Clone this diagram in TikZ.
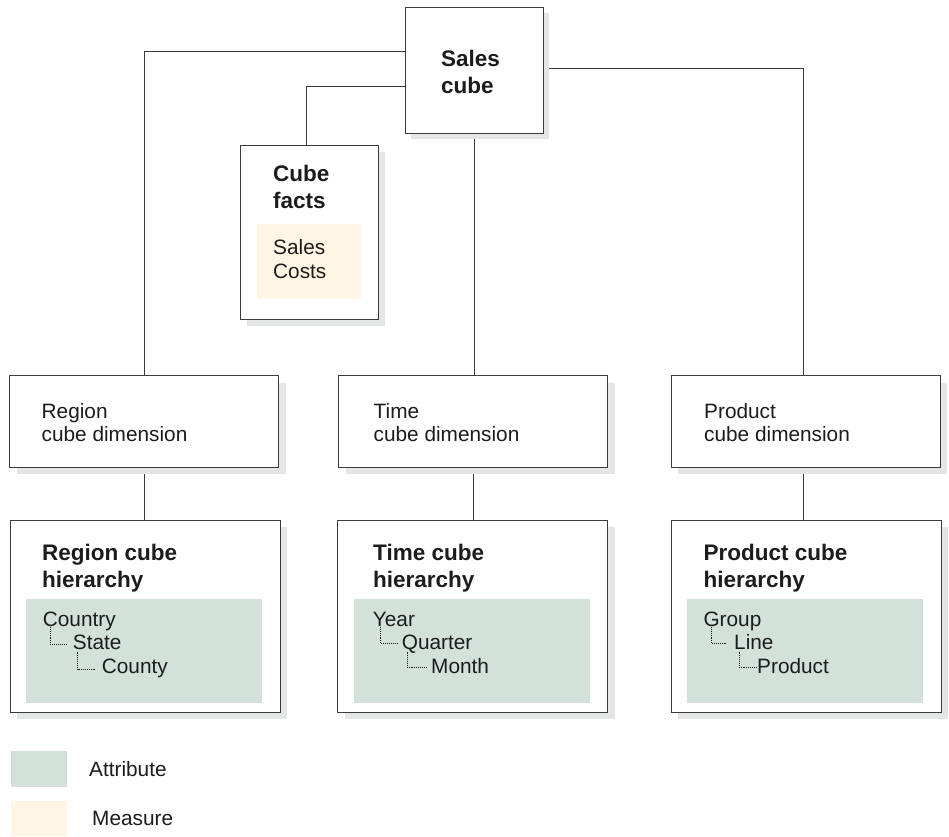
\documentclass[tikz,border=0pt]{standalone}
\usepackage{fontspec}
\setmainfont{Liberation Sans}
\usetikzlibrary{calc,shadows}

\definecolor{attrfill}{RGB}{211,225,219}
\definecolor{measfill}{RGB}{255,245,228}
\definecolor{shadowgrey}{RGB}{228,230,230}
\definecolor{edge}{RGB}{58,58,58}
\definecolor{ink}{RGB}{28,28,28}

\pgfdeclarelayer{paper}
\pgfdeclarelayer{wires}
\pgfsetlayers{paper,wires,main}

\begin{document}
\begin{tikzpicture}[x=1pt,y=-1pt,
  box/.style={draw=edge,line width=1pt,fill=white,rectangle,inner sep=0pt,
    drop shadow={shadow xshift=#1,shadow yshift=-#1,fill=shadowgrey,opacity=1}},
  box/.default=7pt,
  swatch/.style={rectangle,inner sep=0pt,draw=none},
  conn/.style={draw=edge,line width=1pt},
  treeline/.style={draw=ink,line width=0.8pt,dash pattern=on 0.8pt off 1.1pt},
  lbl/.style={anchor=base west,inner sep=0pt,text=ink,font=\fontsize{20.8}{23.5}\selectfont},
  ttl/.style={anchor=base west,inner sep=0pt,text=ink,font=\fontsize{22.5}{27}\selectfont\bfseries},
]
\begin{pgfonlayer}{paper}
  \path[use as bounding box,fill=white] (0,0) rectangle (949,833);
\end{pgfonlayer}

% ---- top: cube and its facts
\node[box=5.5pt,minimum width=138pt,minimum height=126pt] (sales) at (474.75,70.85) {};
\node[ttl] (salesA) at (441,66) {Sales};
\node[ttl] (salesB) at (441,93) {cube};

\node[box,minimum width=138pt,minimum height=174pt] (facts) at (309,232) {};
\node[swatch,fill=measfill,minimum width=104pt,minimum height=75pt] (measures) at (309,261.5) {};
\node[ttl] (factsA) at (273,181.5) {Cube};
\node[ttl] (factsB) at (273,208.5) {facts};
\node[lbl] (mSales) at (273,254.5) {Sales};
\node[lbl] (mCosts) at (273,278) {Costs};

% ---- cube dimensions
\foreach \nm/\cx/\tx/\word in {region/144.1/41.5/Region, time/473/373.5/Time, product/805.5/704/Product}{
  \node[box,minimum width=269pt,minimum height=91.3pt] (\nm dim) at (\cx,421.4) {};
  \node[lbl] (\nm dimA) at (\tx,418) {\word};
  \node[lbl] (\nm dimB) at (\tx,441.5) {cube dimension};
}

% ---- hierarchies
\foreach \nm/\cx/\tx/\word in {region/145/42/Region, time/472.8/373/Time, product/806.3/703.3/Product}{
  \node[box,minimum width=270pt,minimum height=192pt] (\nm hier) at (\cx,616) {};
  \node[swatch,fill=attrfill,minimum width=236pt,minimum height=104pt] (\nm attr) at (\cx-1,651) {};
  \node[ttl] (\nm hierA) at (\tx,560) {\word\ cube};
  \node[ttl] (\nm hierB) at (\tx,587) {hierarchy};
}

% attribute levels
\node[lbl] (country) at (42.7,626) {Country};
\node[lbl] (state)   at (72.7,649.5) {State};
\node[lbl] (county)  at (101.7,673.5) {County};
\node[lbl] (year)    at (372.7,626) {Year};
\node[lbl] (quarter) at (401.7,649.5) {Quarter};
\node[lbl] (month)   at (431,673.5) {Month};
\node[lbl] (group)   at (703.3,626) {Group};
\node[lbl] (line)    at (734,649.5) {Line};
\node[lbl] (prod)    at (757,673.5) {Product};

\draw[treeline] ([xshift=7.5pt,yshift=-1pt]country.base west) |- ([xshift=-6pt,yshift=5.5pt]state.base west);
\draw[treeline] ([xshift=5pt,yshift=-2pt]state.base west) |- ([xshift=-6pt,yshift=4.5pt]county.base west);
\draw[treeline] ([xshift=7.5pt,yshift=-1pt]year.base west) |- ([xshift=-4.5pt,yshift=6.5pt]quarter.base west);
\draw[treeline] ([xshift=5.3pt,yshift=-2pt]quarter.base west) |- ([xshift=-4pt,yshift=6.5pt]month.base west);
\draw[treeline] ([xshift=7.7pt,yshift=-1pt]group.base west) |- ([xshift=-7pt,yshift=6.5pt]line.base west);
\draw[treeline] ([xshift=5pt,yshift=-2pt]line.base west) |- ([xshift=-0.5pt,yshift=6.5pt]prod.base west);

% ---- legend
\node[swatch,fill=attrfill,minimum width=56pt,minimum height=36pt] (keyAttr) at (39,769) {};
\node[lbl] (keyAttrT) at (89,776) {Attribute};
\node[swatch,fill=measfill,minimum width=56pt,minimum height=35pt] (keyMeas) at (39,818.5) {};
\node[lbl] (keyMeasT) at (92,825.7) {Measure};

% ---- connectors, kept under the boxes and their shadows
\begin{pgfonlayer}{wires}
  \draw[conn] ($(sales.west)+(0,-19.5)$) -| (regiondim.north);
  \draw[conn] ($(sales.west)+(0,16)$) -| ($(facts.north)+(-3,0)$);
  \draw[conn] ($(sales.east)+(0,-2)$) -| ($(productdim.north)+(-2.5,0)$);
  \draw[conn] (sales.south) -- (sales.south |- timedim.north);
  \draw[conn] (regiondim.south) -- (regiondim.south |- regionhier.north);
  \draw[conn] (timedim.south) -- (timedim.south |- timehier.north);
  \draw[conn] ($(productdim.south)+(-2.5,0)$) -- ($(productdim.south |- producthier.north)+(-2.5,0)$);
\end{pgfonlayer}
\end{tikzpicture}
\end{document}
